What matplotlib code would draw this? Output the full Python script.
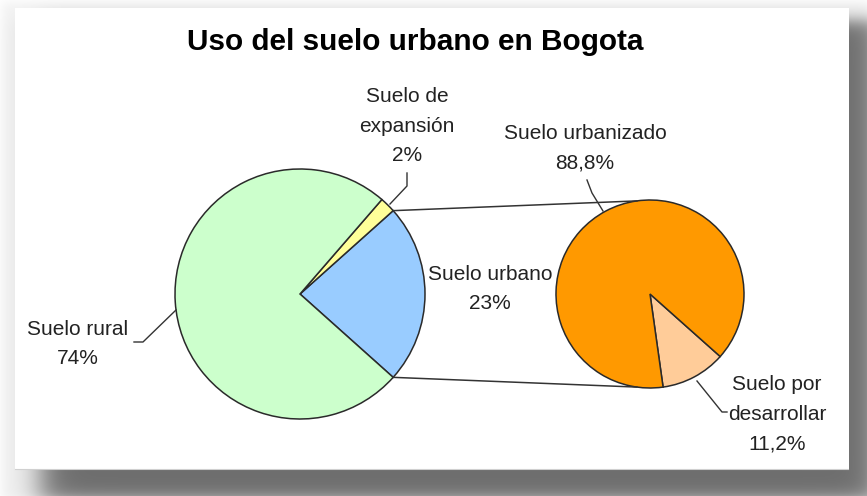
import numpy as np
import matplotlib
matplotlib.use("Agg")
import matplotlib.pyplot as plt

# ---- data ----
main_labels = ["Suelo urbano", "Suelo de\nexpansión", "Suelo rural"]
main_pct = [23, 2, 74]
main_pct_txt = ["23%", "2%", "74%"]
main_colors = ["#99CCFF", "#FFFF99", "#CCFFCC"]

sub_labels = ["Suelo por\ndesarrollar", "Suelo urbanizado"]
sub_pct = [11.2, 88.8]
sub_pct_txt = ["11,2%", "88,8%"]
sub_colors = ["#FFCC99", "#FF9900"]

title = "Uso del suelo urbano en Bogota"

W, H = 867, 496
fig = plt.figure(figsize=(W / 100, H / 100), dpi=100)

# ---- background card with drop shadow ----
bg = fig.add_axes([0, 0, 1, 1])
xx = np.arange(W)[None, :]
yy = np.arange(H)[:, None]
def band(v, a, b, s):
    return 0.5 * (np.tanh((v - a) / s) - np.tanh((v - b) / s))
shadow = band(xx, 40, 880, 18) * band(yy, 20, 500, 10)
img = 1 - 0.52 * shadow
edge = band(xx, 2, 870, 6) * band(yy, 2, 500, 6)
img = img - 0.05 * edge
img = np.clip(img, 0, 1)
card = (xx >= 15) & (xx <= 848) & (yy >= 8) & (yy <= 468)
img = np.where(card, 1.0, img)
rgb = np.dstack([img, img, img])
bg.imshow(rgb, extent=[0, W, H, 0], aspect="auto", interpolation="bilinear")
bg.plot([15, 848], [468.5, 468.5], color="#d0d0d0", lw=0.8)
bg.set_xlim(0, W); bg.set_ylim(H, 0)
bg.axis("off")

# ---- chart axes in pixel coordinates (y up) ----
ax = fig.add_axes([0, 0, 1, 1])
def Y(py):
    return H - py

FONT = "Liberation Sans"
fs = 15

c1 = (300, Y(294)); r1 = 125
c2 = (650, Y(294)); r2 = 94

tot = sum(main_pct)
start1 = -360 * main_pct[0] / tot / 2
w1, _ = ax.pie(main_pct, colors=main_colors, startangle=start1, counterclock=True,
               center=c1, radius=r1, normalize=True,
               wedgeprops=dict(edgecolor="#2a2a2a", linewidth=1.1))
w2, _ = ax.pie(sub_pct, colors=sub_colors, startangle=-82, counterclock=True,
               center=c2, radius=r2, normalize=True,
               wedgeprops=dict(edgecolor="#2a2a2a", linewidth=1.1))
ax.set_xlim(0, W); ax.set_ylim(0, H)
ax.set_aspect("equal")
ax.axis("off")

# connector lines from urbano wedge edges to secondary pie
urb = w1[0]
for th1, th2 in [(urb.theta2, 98), (urb.theta1, -98)]:
    p1 = (c1[0] + r1 * np.cos(np.radians(th1)), c1[1] + r1 * np.sin(np.radians(th1)))
    p2 = (c2[0] + r2 * np.cos(np.radians(th2)), c2[1] + r2 * np.sin(np.radians(th2)))
    ax.plot([p1[0], p2[0]], [p1[1], p2[1]], color="#333333", lw=1.1, zorder=1)

# title
ax.text(415.5, Y(42), title, ha="center", va="center", fontsize=21.4, fontweight="bold",
        family=FONT, color="black")

txtkw = dict(ha="center", va="center", fontsize=fs, family=FONT, color="#222222",
             linespacing=1.72)

# labels
ax.text(78, Y(344), main_labels[2] + "\n" + main_pct_txt[2], **txtkw)
ax.text(407, Y(126), main_labels[1] + "\n" + main_pct_txt[1], **txtkw)
ax.text(490, Y(289), main_labels[0] + "\n" + main_pct_txt[0], **txtkw)
ax.text(585, Y(148), sub_labels[1] + "\n" + sub_pct_txt[1], **txtkw)
ax.text(777, Y(414), sub_labels[0] + "\n" + sub_pct_txt[0], **txtkw)

# leader lines
lk = dict(color="#333333", lw=1.0, zorder=5)
def leader(pts):
    ax.plot([p[0] for p in pts], [Y(p[1]) for p in pts], **lk)
leader([(176, 310), (143, 342), (134, 342)])
leader([(390, 204), (407, 186), (407, 173)])
leader([(603, 211), (592, 193), (587, 180)])
leader([(697, 381), (722, 412), (727, 412)])

fig.savefig("out.png", dpi=100)
